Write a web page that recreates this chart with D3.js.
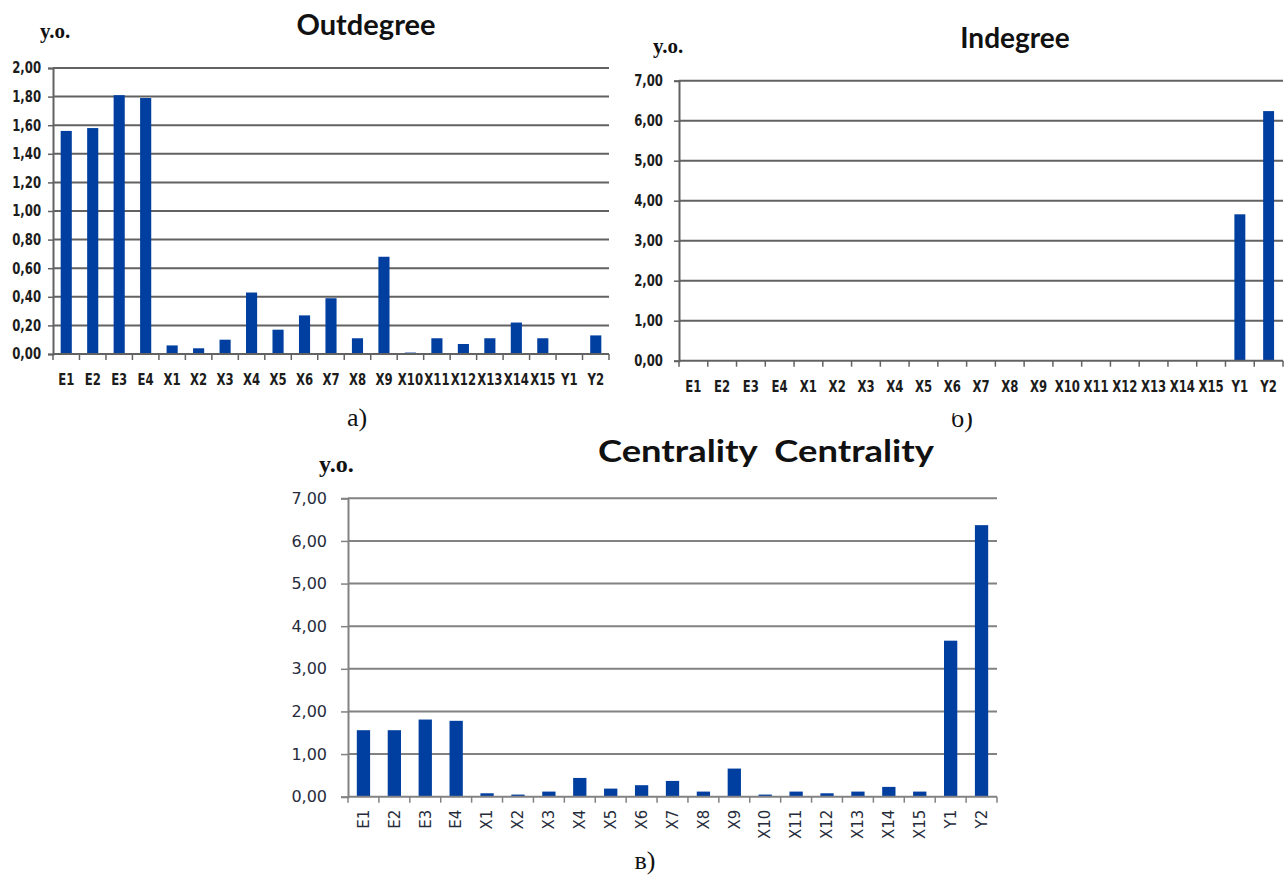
<!DOCTYPE html>
<html>
<head>
<meta charset="utf-8">
<title>Outdegree, Indegree, Centrality</title>
<style>
  body { margin: 0; background: #fff; }
</style>
</head>
<body>
<script src="https://d3js.org/d3.v7.min.js"></script>
<div id="chart"></div>
<script>

// categories on the x axis (same for all three charts)
const categories = ["E1", "E2", "E3", "E4", "X1", "X2", "X3", "X4", "X5", "X6", "X7", "X8",
  "X9", "X10", "X11", "X12", "X13", "X14", "X15", "Y1", "Y2"];

// values
const outdegree = [1.56, 1.58, 1.81, 1.79, 0.06, 0.04, 0.10, 0.43, 0.17, 0.27, 0.39, 0.11,
  0.68, 0.01, 0.11, 0.07, 0.11, 0.22, 0.11, 0.00, 0.13];
const indegree = [0, 0, 0, 0, 0, 0, 0, 0, 0, 0, 0, 0, 0, 0, 0, 0, 0, 0, 0, 3.66, 6.24];
const centrality = [1.56, 1.56, 1.81, 1.78, 0.08, 0.05, 0.12, 0.44, 0.19, 0.27, 0.37, 0.12,
  0.66, 0.05, 0.12, 0.08, 0.12, 0.23, 0.12, 3.66, 6.37];

// y tick values
const ticksOut = [0, 0.2, 0.4, 0.6, 0.8, 1.0, 1.2, 1.4, 1.6, 1.8, 2.0];
const ticksSeven = [0, 1, 2, 3, 4, 5, 6, 7];

const titles = ["Outdegree", "Indegree", "Centrality  Centrality"];
const unitLabel = "y.o.";
const captions = ["а)", "б)", "в)"];

const width = 1285, height = 877;
const barColor = "#003f9f";
const fmt = d => d3.format(".2f")(d).replace(".", ",");

const svg = d3.select("#chart")
  .append("svg")
    .attr("width", width)
    .attr("height", height);

svg.append("rect").attr("width", width).attr("height", height).attr("fill", "#fff");

// one bar chart panel
function drawPanel(values, ticks, p) {
  const g = svg.append("g");
  const sx = p.squeeze || 1;

  const x = d3.scaleBand()
    .domain(categories)
    .range([p.left, p.right])
    .paddingInner(p.pad)
    .paddingOuter(p.pad / 2);

  const y = d3.scaleLinear()
    .domain([0, d3.max(ticks)])
    .range([p.bottom, p.top]);

  // horizontal gridlines
  g.selectAll(".grid")
    .data(ticks.filter(t => t > 0))
    .join("line")
      .attr("x1", p.left)
      .attr("x2", p.right)
      .attr("y1", d => y(d))
      .attr("y2", d => y(d))
      .attr("stroke", p.lineColor)
      .attr("stroke-width", 2);

  // y axis
  const yAxis = g.append("g")
    .attr("transform", `translate(${p.left},0)`)
    .call(d3.axisLeft(y).tickValues(ticks).tickFormat(fmt).tickSize(p.yTick).tickPadding(p.yPad));
  yAxis.select(".domain").attr("stroke", p.lineColor).attr("stroke-width", 2);
  yAxis.selectAll(".tick line").attr("stroke", p.lineColor).attr("stroke-width", 1.5);
  yAxis.selectAll("text")
    .attr("fill", p.textColor)
    .attr("x", -(p.yTick + p.yPad) / sx)
    .attr("transform", `scale(${sx},1)`)
    .style("font-family", p.tickFont)
    .style("font-weight", p.tickWeight)
    .style("font-size", p.tickSize + "px");

  // bars
  g.selectAll(".bar")
    .data(values)
    .join("rect")
      .attr("x", (d, i) => x(categories[i]))
      .attr("y", d => y(d))
      .attr("width", x.bandwidth())
      .attr("height", d => y(0) - y(d))
      .attr("fill", barColor);

  // x axis baseline and ticks at the category boundaries
  g.append("line")
    .attr("x1", p.left).attr("x2", p.right)
    .attr("y1", y(0)).attr("y2", y(0))
    .attr("stroke", p.lineColor).attr("stroke-width", 2);

  const bounds = categories.map(c => x(c) + x.bandwidth() / 2 - x.step() / 2).concat([p.right]);
  g.selectAll(".xtick")
    .data(bounds)
    .join("line")
      .attr("x1", d => d).attr("x2", d => d)
      .attr("y1", y(0)).attr("y2", y(0) + 6)
      .attr("stroke", p.lineColor).attr("stroke-width", 1.5);

  // category labels
  const labels = g.selectAll(".xlabel")
    .data(categories)
    .join("text")
      .attr("fill", p.textColor)
      .style("font-family", p.tickFont)
      .style("font-weight", p.tickWeight)
      .style("font-size", p.xSize + "px")
      .text(d => d);

  if (p.rotate) {
    labels
      .attr("text-anchor", "end")
      .attr("transform", d => `translate(${x(d) + x.bandwidth() / 2},${y(0) + p.xOffset}) rotate(-90)`)
      .attr("dy", "0.35em");
  } else {
    labels
      .attr("text-anchor", "middle")
      .attr("transform", d => `translate(${x(d) + x.bandwidth() / 2},${y(0) + p.xOffset}) scale(${sx},1)`);
  }

  // title
  const t = g.append("text")
    .attr("x", p.titleX)
    .attr("y", p.titleY)
    .attr("text-anchor", "middle")
    .attr("fill", "#111")
    .style("font-family", "Lato, 'Open Sans', sans-serif")
    .style("font-weight", "bold")
    .style("font-size", p.titleSize + "px")
    .style("white-space", "pre")
    .text(p.title);
  if (p.titleLength) t.attr("textLength", p.titleLength).attr("lengthAdjust", "spacingAndGlyphs");

  // unit label
  g.append("text")
    .attr("x", p.unitX)
    .attr("y", p.unitY)
    .attr("fill", "#111")
    .style("font-family", "'Liberation Serif', 'DejaVu Serif', serif")
    .style("font-weight", "bold")
    .style("font-size", p.unitSize + "px")
    .text(unitLabel);
}

function caption(txt, cx, cy) {
  svg.append("text")
    .attr("x", cx)
    .attr("y", cy)
    .attr("text-anchor", "middle")
    .attr("fill", "#111")
    .style("font-family", "'Liberation Serif', 'DejaVu Serif', serif")
    .style("font-size", "26px")
    .text(txt);
}

const boldTicks = {
  tickFont: "'DejaVu Sans', sans-serif",
  tickWeight: "bold",
  textColor: "#1c1c1c",
  lineColor: "#626262",
  squeeze: 0.78,
  yTick: 5,
  rotate: false
};

// а) Outdegree
drawPanel(outdegree, ticksOut, Object.assign({}, boldTicks, {
  left: 53, right: 609, top: 68, bottom: 354, pad: 0.58,
  yPad: 7, tickSize: 15, xSize: 15, xOffset: 31,
  title: titles[0], titleX: 366, titleY: 35, titleSize: 29,
  unitX: 40, unitY: 38, unitSize: 21
}));

caption(captions[0], 357, 426);

// б) sits partly under the Indegree panel, whose white background hides its top
caption(captions[1], 962, 427);
svg.append("rect")
  .attr("x", 620).attr("y", 0)
  .attr("width", 665).attr("height", 413)
  .attr("fill", "#fff");

// б) Indegree
drawPanel(indegree, ticksSeven, Object.assign({}, boldTicks, {
  left: 679, right: 1283, top: 80.7, bottom: 360.7, pad: 0.62,
  yPad: 11, tickSize: 15, xSize: 15, xOffset: 31,
  title: titles[1], titleX: 1015, titleY: 48, titleSize: 28,
  unitX: 653, unitY: 53, unitSize: 21
}));

// в) Centrality
drawPanel(centrality, ticksSeven, {
  left: 348, right: 997, top: 498.3, bottom: 796.7, pad: 0.57,
  tickFont: "'DejaVu Sans', Verdana, sans-serif",
  tickWeight: "normal",
  textColor: "#272c3c",
  lineColor: "#828282",
  yTick: 7, yPad: 14, tickSize: 16, xSize: 15, xOffset: 13,
  rotate: true,
  title: titles[2], titleX: 766, titleY: 462, titleSize: 31, titleLength: 336,
  unitX: 319, unitY: 472, unitSize: 24
});

caption(captions[2], 645, 869);

</script>
</body>
</html>
